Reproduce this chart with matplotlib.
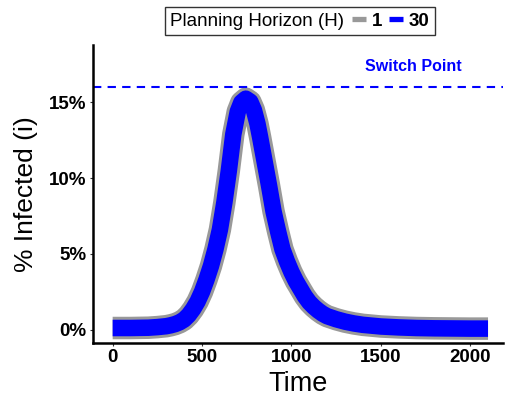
import matplotlib
matplotlib.use("Agg")
import matplotlib.pyplot as plt
from matplotlib.lines import Line2D
from matplotlib.offsetbox import HPacker

plt.rcParams['font.family'] = ['Liberation Sans', 'DejaVu Sans']

# values
time = [0, 100, 200, 250, 300, 325, 350, 375, 400, 425, 450, 475, 500, 525, 550,
        575, 600, 625, 650, 675, 700, 720, 745, 770, 790, 810, 825, 850, 875,
        900, 925, 950, 975, 1000, 1025, 1050, 1075, 1100, 1125, 1150, 1175,
        1200, 1250, 1300, 1350, 1400, 1500, 1600, 1700, 1800, 2000, 2100]
infected_h1 = [0.1, 0.1, 0.12, 0.16, 0.22, 0.28, 0.36, 0.48, 0.66, 0.95, 1.35,
               1.85, 2.5, 3.3, 4.2, 5.3, 6.6, 8.4, 10.5, 12.9, 14.4, 15.0, 15.25,
               15.05, 14.5, 13.6, 12.7, 11.1, 9.5, 7.8, 6.5, 5.3, 4.5, 3.8, 3.2,
               2.7, 2.2, 1.8, 1.5, 1.25, 1.04, 0.88, 0.68, 0.52, 0.4, 0.31, 0.2,
               0.14, 0.1, 0.08, 0.06, 0.06]
infected_h30 = list(infected_h1)
switch_point = 16.0
yticks = [0, 5, 10, 15]
xticks = [0, 500, 1000, 1500, 2000]

fig = plt.figure(figsize=(5.06, 3.97), dpi=100)
ax = fig.add_axes([0.1838, 0.1368, 0.810, 0.750])

ax.plot(time, infected_h1, color='#999999', lw=16.2, solid_capstyle='butt',
        solid_joinstyle='round')
ax.plot(time, infected_h30, color='#0000FF', lw=11.9, solid_capstyle='butt',
        solid_joinstyle='round')
ax.axhline(switch_point, color='#0000FF', lw=1.5, dashes=(4, 3))
ax.text(1680, 17.4, 'Switch Point', color='#0000FF', fontsize=11.5,
        fontweight='bold', ha='center', va='center')

ax.set_xlim(-110, 2183)
ax.set_ylim(-0.87, 18.8)
ax.set_xticks(xticks)
ax.set_yticks(yticks)
ax.set_yticklabels([f'{v}%' for v in yticks])
ax.tick_params(labelsize=13.5, length=2.5, width=0.8, color='#333333', pad=2)
for lab in ax.get_xticklabels() + ax.get_yticklabels():
    lab.set_fontweight('bold')

for s in ['top', 'right']:
    ax.spines[s].set_visible(False)
for s in ['left', 'bottom']:
    ax.spines[s].set_linewidth(1.8)

ax.set_xlabel('Time', fontsize=19.5, labelpad=4)
ax.set_ylabel('% Infected (i)', fontsize=19, labelpad=8)

h1 = Line2D([], [], color='#999999', lw=3.8, solid_capstyle='butt')
h30 = Line2D([], [], color='#0000FF', lw=3.8, solid_capstyle='butt')
leg = fig.legend(handles=[h1, h30], labels=['1', '30'], ncol=2,
                 title='Planning Horizon (H)', loc='center',
                 bbox_to_anchor=(0.593, 0.947),
                 prop={'weight': 'bold', 'size': 13.5},
                 title_fontproperties={'size': 13.5},
                 handlelength=0.75, handletextpad=0.3, columnspacing=0.4,
                 fancybox=False, edgecolor='black', borderpad=0.3)
leg.get_frame().set_linewidth(1.0)
fs = leg._fontsize
leg._legend_box = HPacker(pad=leg.borderpad * fs, sep=0.4 * fs, align='center',
                          children=[leg._legend_title_box, leg._legend_handle_box])
leg._legend_box.set_figure(fig)
leg._set_loc(leg._loc)

fig.savefig('out.png', dpi=100)
